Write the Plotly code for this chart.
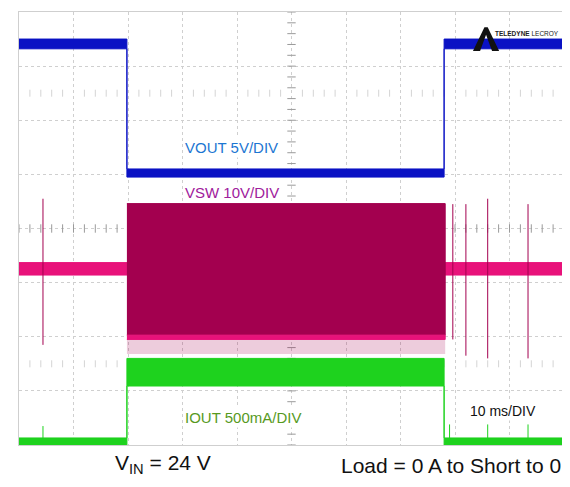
import plotly.graph_objects as go

# scope capture, 10 ms/div, y in divisions (-4..4)
time_ms = [0, 19.8, 19.8, 78.0, 78.0, 100]

# VOUT (blue) band top/bottom, div
vout_hi = [3.50, 3.50, 1.10, 1.10, 3.50, 3.50]
vout_lo = [3.32, 3.32, 0.95, 0.95, 3.32, 3.32]

# VSW idle level (pink) and switching envelope (maroon)
vsw_idle_hi = -0.63
vsw_idle_lo = -0.86
sw_start = 19.8
sw_end = 78.2
vsw_sw_top = 0.46
vsw_sw_bot = -1.97
vsw_low_line = [-1.97, -2.05]
vsw_fringe = -2.32
vsw_spike_t = [4.4, 79.6, 82.0, 86.0, 93.4]
vsw_spike_top = [0.55, 0.45, 0.45, 0.55, 0.45]
vsw_spike_bot = [-2.15, -2.05, -2.35, -2.4, -2.4]

# IOUT (green)
iout_hi = [-3.87, -3.87, -2.40, -2.40, -3.87, -3.87]
iout_lo = [-4.00, -4.00, -2.91, -2.91, -4.00, -4.00]
iout_spike_t = [4.4, 79.0, 86.0, 93.4]
iout_spike_top = [-3.65, -3.62, -3.62, -3.62]

trigger_t = 20

BLUE = "#0a12c4"
MAROON = "#a3004f"
PINK = "#e8127a"
GREEN = "#1ed21e"


def band(x, hi, lo, color, width=1):
    return go.Scatter(x=list(x) + list(x)[::-1], y=list(hi) + list(lo)[::-1],
                      fill="toself", fillcolor=color, mode="lines",
                      line=dict(color=color, width=width), hoverinfo="skip",
                      showlegend=False)


def spikes(ts, tops, bots, color):
    xs, ys = [], []
    for t, a, b in zip(ts, tops, bots):
        xs += [t, t, None]
        ys += [a, b, None]
    return go.Scatter(x=xs, y=ys, mode="lines", line=dict(color=color, width=1),
                      hoverinfo="skip", showlegend=False)


fig = go.Figure()

# graticule tick marks on centre lines and ghost rows
tick_x = [i * 2 for i in range(51)]
tick_y = [i * 0.2 - 4 for i in range(41)]
fig.add_trace(go.Scatter(x=tick_x, y=[0] * len(tick_x), mode="markers",
                         marker=dict(symbol="line-ns", size=6, line=dict(color="#9a9a9a", width=1)),
                         hoverinfo="skip", showlegend=False))
fig.add_trace(go.Scatter(x=[50] * len(tick_y), y=tick_y, mode="markers",
                         marker=dict(symbol="line-ew", size=6, line=dict(color="#9a9a9a", width=1)),
                         hoverinfo="skip", showlegend=False))
for gy in [2.5, -2.5]:
    fig.add_trace(go.Scatter(x=[t for t in tick_x if t % 10], y=[gy] * 40, mode="markers",
                             marker=dict(symbol="line-ns", size=5, line=dict(color="#d4d4d4", width=1)),
                             hoverinfo="skip", showlegend=False))

# VSW
fig.add_trace(band([0, 100], [vsw_idle_hi] * 2, [vsw_idle_lo] * 2, PINK))
fig.add_trace(spikes(vsw_spike_t, vsw_spike_top, vsw_spike_bot, MAROON))
fig.add_trace(band([sw_start, sw_end], [vsw_low_line[1]] * 2, [vsw_fringe] * 2,
                   "rgba(163,0,79,0.2)", width=0))
fig.add_trace(band([sw_start, sw_end], [vsw_sw_top] * 2, [vsw_sw_bot] * 2, MAROON))
fig.add_trace(band([sw_start, sw_end], [vsw_low_line[0]] * 2, [vsw_low_line[1]] * 2, PINK))

# VOUT
fig.add_trace(band(time_ms, vout_hi, vout_lo, BLUE))

# IOUT
fig.add_trace(band(time_ms, iout_hi, iout_lo, GREEN))
fig.add_trace(spikes(iout_spike_t, iout_spike_top, [-3.9] * len(iout_spike_t), GREEN))

# trigger marker under the grid
fig.add_trace(go.Scatter(x=[trigger_t], y=[-4.1], mode="markers", cliponaxis=False,
                         marker=dict(symbol="triangle-up", size=5, color="#1030d0"),
                         hoverinfo="skip", showlegend=False))

ann = dict(xref="x", yref="y", showarrow=False, bgcolor="white",
           xanchor="left", borderpad=1)
fig.add_annotation(x=30, y=1.5, text="VOUT 5V/DIV", font=dict(size=15, color="#1c76d2"), **ann)
fig.add_annotation(x=30, y=0.66, text="VSW 10V/DIV", font=dict(size=15, color="#a0209c"), **ann)
fig.add_annotation(x=30, y=-3.5, text="IOUT 500mA/DIV", font=dict(size=15, color="#579a1e"), **ann)
fig.add_annotation(x=82.4, y=-3.38, text="10 ms/DIV", font=dict(size=14, color="#111111"), **ann)

fig.add_annotation(x=0.172, y=-0.078, xref="paper", yref="paper", showarrow=False, xanchor="left",
                   text="V<sub>IN</sub> = 24 V", font=dict(size=21, color="#111111"))
fig.add_annotation(x=0.998, y=-0.078, xref="paper", yref="paper", showarrow=False, xanchor="right",
                   text="Load = 0 A to Short to 0", font=dict(size=21, color="#111111"))

# logo
fig.add_annotation(x=99.4, y=3.6, xref="x", yref="y", showarrow=False, xanchor="right",
                   text="<b>TELEDYNE</b> LECROY", font=dict(size=6.5, color="#222222"))
fig.add_shape(type="path", xref="x", yref="y",
              path="M 83.3 3.28 L 85.4 3.72 L 86.0 3.72 L 88.1 3.28 L 86.8 3.28 L 85.7 3.58 L 84.6 3.28 Z",
              fillcolor="#111111", line=dict(width=0))

axis = dict(showticklabels=False, ticks="", zeroline=False, showgrid=True,
            gridcolor="#cfcfcf", griddash="dot", gridwidth=1,
            showline=True, linecolor="#cfcfcf", mirror=True)
fig.update_xaxes(range=[0, 100], dtick=10, **axis)
fig.update_yaxes(range=[-4, 4], dtick=1, **axis)

# page body keeps its default 8 px margin, so the figure is sized to fit
fig.update_layout(width=562, height=479,
                  margin=dict(l=11, r=6, t=4, b=42, autoexpand=False),
                  paper_bgcolor="white", plot_bgcolor="white",
                  font=dict(family="Liberation Sans, Arial, sans-serif"))

fig.write_html("out.html")
